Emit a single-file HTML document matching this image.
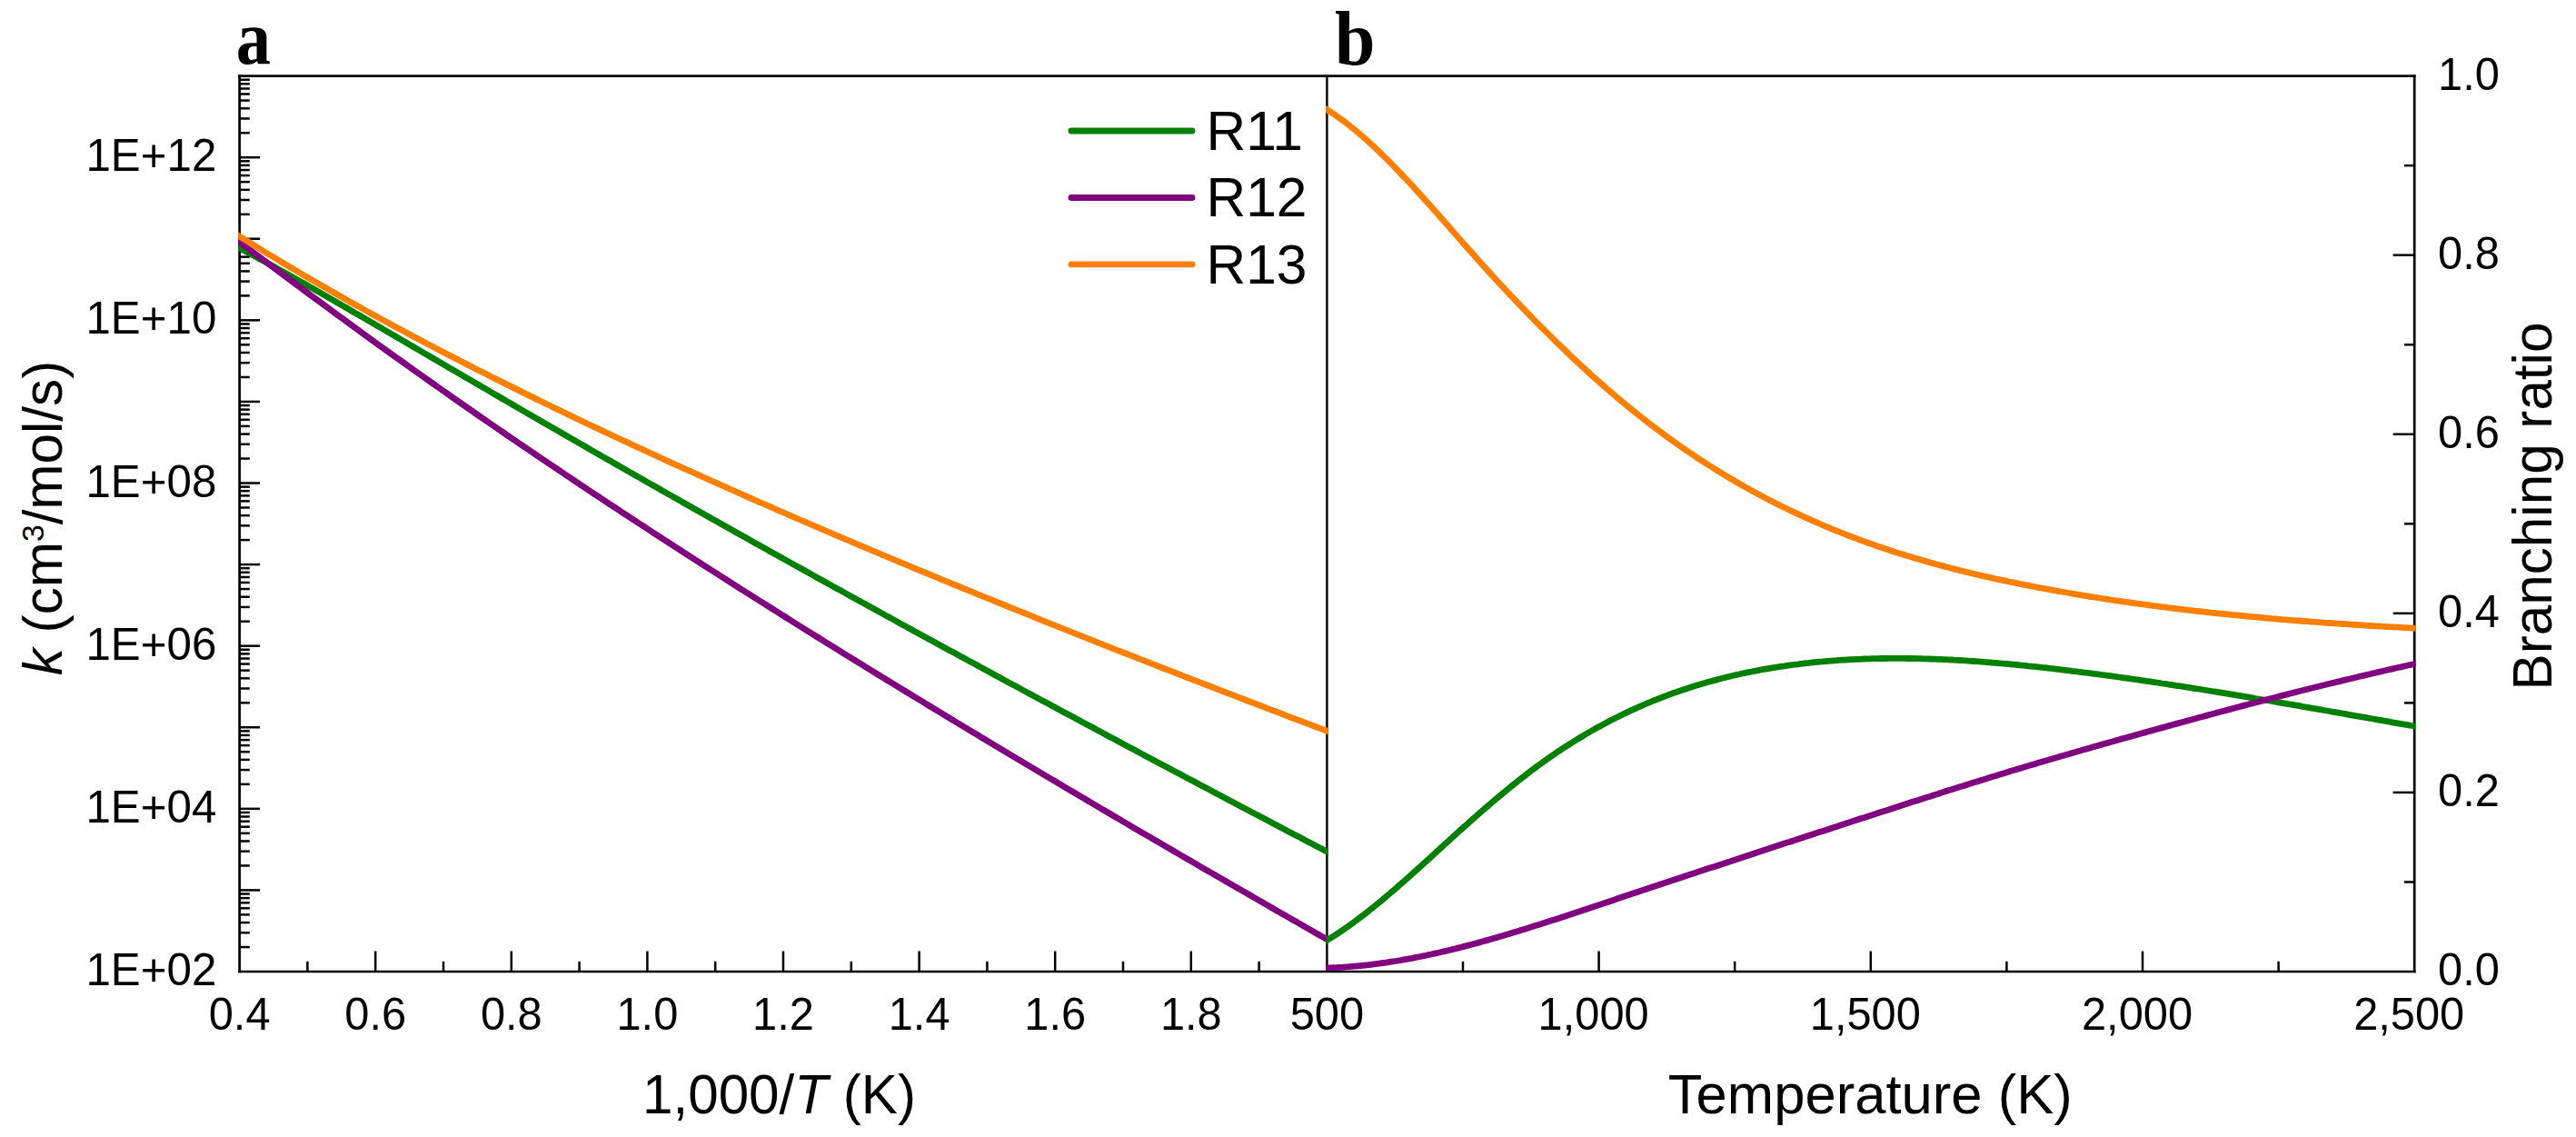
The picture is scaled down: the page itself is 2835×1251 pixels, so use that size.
<!DOCTYPE html>
<html><head><meta charset="utf-8"><title>Rate constants and branching ratios</title>
<style>html,body{margin:0;padding:0;background:#fff;}svg{display:block;}text{font-family:"Liberation Sans",Arial,sans-serif;fill:#000;}text.pl{font-family:"Liberation Serif",serif;font-weight:bold;}</style>
</head><body>
<svg width="2835" height="1251" viewBox="0 0 2835 1251">
<defs><clipPath id="ca"><rect x="262.20000000000005" y="0" width="1199.4" height="1251"/></clipPath><clipPath id="cb"><rect x="1459.2" y="0" width="1199.3999999999999" height="1251"/></clipPath></defs>
<rect width="2835" height="1251" fill="#fff"/>
<line x1="263.60" y1="1042.03" x2="274.80" y2="1042.03" stroke="#000" stroke-width="2.5" stroke-linecap="butt"/>
<line x1="263.60" y1="1026.26" x2="274.80" y2="1026.26" stroke="#000" stroke-width="2.5" stroke-linecap="butt"/>
<line x1="263.60" y1="1015.07" x2="274.80" y2="1015.07" stroke="#000" stroke-width="2.5" stroke-linecap="butt"/>
<line x1="263.60" y1="1006.38" x2="274.80" y2="1006.38" stroke="#000" stroke-width="2.5" stroke-linecap="butt"/>
<line x1="263.60" y1="999.29" x2="274.80" y2="999.29" stroke="#000" stroke-width="2.5" stroke-linecap="butt"/>
<line x1="263.60" y1="993.29" x2="274.80" y2="993.29" stroke="#000" stroke-width="2.5" stroke-linecap="butt"/>
<line x1="263.60" y1="988.10" x2="274.80" y2="988.10" stroke="#000" stroke-width="2.5" stroke-linecap="butt"/>
<line x1="263.60" y1="983.52" x2="274.80" y2="983.52" stroke="#000" stroke-width="2.5" stroke-linecap="butt"/>
<line x1="263.60" y1="979.42" x2="286.10" y2="979.42" stroke="#000" stroke-width="2.5" stroke-linecap="butt"/>
<line x1="263.60" y1="952.45" x2="274.80" y2="952.45" stroke="#000" stroke-width="2.5" stroke-linecap="butt"/>
<line x1="263.60" y1="936.68" x2="274.80" y2="936.68" stroke="#000" stroke-width="2.5" stroke-linecap="butt"/>
<line x1="263.60" y1="925.48" x2="274.80" y2="925.48" stroke="#000" stroke-width="2.5" stroke-linecap="butt"/>
<line x1="263.60" y1="916.80" x2="274.80" y2="916.80" stroke="#000" stroke-width="2.5" stroke-linecap="butt"/>
<line x1="263.60" y1="909.71" x2="274.80" y2="909.71" stroke="#000" stroke-width="2.5" stroke-linecap="butt"/>
<line x1="263.60" y1="903.71" x2="274.80" y2="903.71" stroke="#000" stroke-width="2.5" stroke-linecap="butt"/>
<line x1="263.60" y1="898.52" x2="274.80" y2="898.52" stroke="#000" stroke-width="2.5" stroke-linecap="butt"/>
<line x1="263.60" y1="893.94" x2="274.80" y2="893.94" stroke="#000" stroke-width="2.5" stroke-linecap="butt"/>
<line x1="263.60" y1="889.84" x2="286.10" y2="889.84" stroke="#000" stroke-width="2.5" stroke-linecap="butt"/>
<line x1="263.60" y1="862.87" x2="274.80" y2="862.87" stroke="#000" stroke-width="2.5" stroke-linecap="butt"/>
<line x1="263.60" y1="847.09" x2="274.80" y2="847.09" stroke="#000" stroke-width="2.5" stroke-linecap="butt"/>
<line x1="263.60" y1="835.90" x2="274.80" y2="835.90" stroke="#000" stroke-width="2.5" stroke-linecap="butt"/>
<line x1="263.60" y1="827.22" x2="274.80" y2="827.22" stroke="#000" stroke-width="2.5" stroke-linecap="butt"/>
<line x1="263.60" y1="820.13" x2="274.80" y2="820.13" stroke="#000" stroke-width="2.5" stroke-linecap="butt"/>
<line x1="263.60" y1="814.13" x2="274.80" y2="814.13" stroke="#000" stroke-width="2.5" stroke-linecap="butt"/>
<line x1="263.60" y1="808.94" x2="274.80" y2="808.94" stroke="#000" stroke-width="2.5" stroke-linecap="butt"/>
<line x1="263.60" y1="804.35" x2="274.80" y2="804.35" stroke="#000" stroke-width="2.5" stroke-linecap="butt"/>
<line x1="263.60" y1="800.25" x2="286.10" y2="800.25" stroke="#000" stroke-width="2.5" stroke-linecap="butt"/>
<line x1="263.60" y1="773.29" x2="274.80" y2="773.29" stroke="#000" stroke-width="2.5" stroke-linecap="butt"/>
<line x1="263.60" y1="757.51" x2="274.80" y2="757.51" stroke="#000" stroke-width="2.5" stroke-linecap="butt"/>
<line x1="263.60" y1="746.32" x2="274.80" y2="746.32" stroke="#000" stroke-width="2.5" stroke-linecap="butt"/>
<line x1="263.60" y1="737.64" x2="274.80" y2="737.64" stroke="#000" stroke-width="2.5" stroke-linecap="butt"/>
<line x1="263.60" y1="730.55" x2="274.80" y2="730.55" stroke="#000" stroke-width="2.5" stroke-linecap="butt"/>
<line x1="263.60" y1="724.55" x2="274.80" y2="724.55" stroke="#000" stroke-width="2.5" stroke-linecap="butt"/>
<line x1="263.60" y1="719.35" x2="274.80" y2="719.35" stroke="#000" stroke-width="2.5" stroke-linecap="butt"/>
<line x1="263.60" y1="714.77" x2="274.80" y2="714.77" stroke="#000" stroke-width="2.5" stroke-linecap="butt"/>
<line x1="263.60" y1="710.67" x2="286.10" y2="710.67" stroke="#000" stroke-width="2.5" stroke-linecap="butt"/>
<line x1="263.60" y1="683.71" x2="274.80" y2="683.71" stroke="#000" stroke-width="2.5" stroke-linecap="butt"/>
<line x1="263.60" y1="667.93" x2="274.80" y2="667.93" stroke="#000" stroke-width="2.5" stroke-linecap="butt"/>
<line x1="263.60" y1="656.74" x2="274.80" y2="656.74" stroke="#000" stroke-width="2.5" stroke-linecap="butt"/>
<line x1="263.60" y1="648.06" x2="274.80" y2="648.06" stroke="#000" stroke-width="2.5" stroke-linecap="butt"/>
<line x1="263.60" y1="640.96" x2="274.80" y2="640.96" stroke="#000" stroke-width="2.5" stroke-linecap="butt"/>
<line x1="263.60" y1="634.97" x2="274.80" y2="634.97" stroke="#000" stroke-width="2.5" stroke-linecap="butt"/>
<line x1="263.60" y1="629.77" x2="274.80" y2="629.77" stroke="#000" stroke-width="2.5" stroke-linecap="butt"/>
<line x1="263.60" y1="625.19" x2="274.80" y2="625.19" stroke="#000" stroke-width="2.5" stroke-linecap="butt"/>
<line x1="263.60" y1="621.09" x2="286.10" y2="621.09" stroke="#000" stroke-width="2.5" stroke-linecap="butt"/>
<line x1="263.60" y1="594.12" x2="274.80" y2="594.12" stroke="#000" stroke-width="2.5" stroke-linecap="butt"/>
<line x1="263.60" y1="578.35" x2="274.80" y2="578.35" stroke="#000" stroke-width="2.5" stroke-linecap="butt"/>
<line x1="263.60" y1="567.16" x2="274.80" y2="567.16" stroke="#000" stroke-width="2.5" stroke-linecap="butt"/>
<line x1="263.60" y1="558.48" x2="274.80" y2="558.48" stroke="#000" stroke-width="2.5" stroke-linecap="butt"/>
<line x1="263.60" y1="551.38" x2="274.80" y2="551.38" stroke="#000" stroke-width="2.5" stroke-linecap="butt"/>
<line x1="263.60" y1="545.39" x2="274.80" y2="545.39" stroke="#000" stroke-width="2.5" stroke-linecap="butt"/>
<line x1="263.60" y1="540.19" x2="274.80" y2="540.19" stroke="#000" stroke-width="2.5" stroke-linecap="butt"/>
<line x1="263.60" y1="535.61" x2="274.80" y2="535.61" stroke="#000" stroke-width="2.5" stroke-linecap="butt"/>
<line x1="263.60" y1="531.51" x2="286.10" y2="531.51" stroke="#000" stroke-width="2.5" stroke-linecap="butt"/>
<line x1="263.60" y1="504.54" x2="274.80" y2="504.54" stroke="#000" stroke-width="2.5" stroke-linecap="butt"/>
<line x1="263.60" y1="488.77" x2="274.80" y2="488.77" stroke="#000" stroke-width="2.5" stroke-linecap="butt"/>
<line x1="263.60" y1="477.58" x2="274.80" y2="477.58" stroke="#000" stroke-width="2.5" stroke-linecap="butt"/>
<line x1="263.60" y1="468.89" x2="274.80" y2="468.89" stroke="#000" stroke-width="2.5" stroke-linecap="butt"/>
<line x1="263.60" y1="461.80" x2="274.80" y2="461.80" stroke="#000" stroke-width="2.5" stroke-linecap="butt"/>
<line x1="263.60" y1="455.80" x2="274.80" y2="455.80" stroke="#000" stroke-width="2.5" stroke-linecap="butt"/>
<line x1="263.60" y1="450.61" x2="274.80" y2="450.61" stroke="#000" stroke-width="2.5" stroke-linecap="butt"/>
<line x1="263.60" y1="446.03" x2="274.80" y2="446.03" stroke="#000" stroke-width="2.5" stroke-linecap="butt"/>
<line x1="263.60" y1="441.93" x2="286.10" y2="441.93" stroke="#000" stroke-width="2.5" stroke-linecap="butt"/>
<line x1="263.60" y1="414.96" x2="274.80" y2="414.96" stroke="#000" stroke-width="2.5" stroke-linecap="butt"/>
<line x1="263.60" y1="399.19" x2="274.80" y2="399.19" stroke="#000" stroke-width="2.5" stroke-linecap="butt"/>
<line x1="263.60" y1="387.99" x2="274.80" y2="387.99" stroke="#000" stroke-width="2.5" stroke-linecap="butt"/>
<line x1="263.60" y1="379.31" x2="274.80" y2="379.31" stroke="#000" stroke-width="2.5" stroke-linecap="butt"/>
<line x1="263.60" y1="372.22" x2="274.80" y2="372.22" stroke="#000" stroke-width="2.5" stroke-linecap="butt"/>
<line x1="263.60" y1="366.22" x2="274.80" y2="366.22" stroke="#000" stroke-width="2.5" stroke-linecap="butt"/>
<line x1="263.60" y1="361.03" x2="274.80" y2="361.03" stroke="#000" stroke-width="2.5" stroke-linecap="butt"/>
<line x1="263.60" y1="356.44" x2="274.80" y2="356.44" stroke="#000" stroke-width="2.5" stroke-linecap="butt"/>
<line x1="263.60" y1="352.35" x2="286.10" y2="352.35" stroke="#000" stroke-width="2.5" stroke-linecap="butt"/>
<line x1="263.60" y1="325.38" x2="274.80" y2="325.38" stroke="#000" stroke-width="2.5" stroke-linecap="butt"/>
<line x1="263.60" y1="309.60" x2="274.80" y2="309.60" stroke="#000" stroke-width="2.5" stroke-linecap="butt"/>
<line x1="263.60" y1="298.41" x2="274.80" y2="298.41" stroke="#000" stroke-width="2.5" stroke-linecap="butt"/>
<line x1="263.60" y1="289.73" x2="274.80" y2="289.73" stroke="#000" stroke-width="2.5" stroke-linecap="butt"/>
<line x1="263.60" y1="282.64" x2="274.80" y2="282.64" stroke="#000" stroke-width="2.5" stroke-linecap="butt"/>
<line x1="263.60" y1="276.64" x2="274.80" y2="276.64" stroke="#000" stroke-width="2.5" stroke-linecap="butt"/>
<line x1="263.60" y1="271.45" x2="274.80" y2="271.45" stroke="#000" stroke-width="2.5" stroke-linecap="butt"/>
<line x1="263.60" y1="266.86" x2="274.80" y2="266.86" stroke="#000" stroke-width="2.5" stroke-linecap="butt"/>
<line x1="263.60" y1="262.76" x2="286.10" y2="262.76" stroke="#000" stroke-width="2.5" stroke-linecap="butt"/>
<line x1="263.60" y1="235.80" x2="274.80" y2="235.80" stroke="#000" stroke-width="2.5" stroke-linecap="butt"/>
<line x1="263.60" y1="220.02" x2="274.80" y2="220.02" stroke="#000" stroke-width="2.5" stroke-linecap="butt"/>
<line x1="263.60" y1="208.83" x2="274.80" y2="208.83" stroke="#000" stroke-width="2.5" stroke-linecap="butt"/>
<line x1="263.60" y1="200.15" x2="274.80" y2="200.15" stroke="#000" stroke-width="2.5" stroke-linecap="butt"/>
<line x1="263.60" y1="193.06" x2="274.80" y2="193.06" stroke="#000" stroke-width="2.5" stroke-linecap="butt"/>
<line x1="263.60" y1="187.06" x2="274.80" y2="187.06" stroke="#000" stroke-width="2.5" stroke-linecap="butt"/>
<line x1="263.60" y1="181.86" x2="274.80" y2="181.86" stroke="#000" stroke-width="2.5" stroke-linecap="butt"/>
<line x1="263.60" y1="177.28" x2="274.80" y2="177.28" stroke="#000" stroke-width="2.5" stroke-linecap="butt"/>
<line x1="263.60" y1="173.18" x2="286.10" y2="173.18" stroke="#000" stroke-width="2.5" stroke-linecap="butt"/>
<line x1="263.60" y1="146.22" x2="274.80" y2="146.22" stroke="#000" stroke-width="2.5" stroke-linecap="butt"/>
<line x1="263.60" y1="130.44" x2="274.80" y2="130.44" stroke="#000" stroke-width="2.5" stroke-linecap="butt"/>
<line x1="263.60" y1="119.25" x2="274.80" y2="119.25" stroke="#000" stroke-width="2.5" stroke-linecap="butt"/>
<line x1="263.60" y1="110.57" x2="274.80" y2="110.57" stroke="#000" stroke-width="2.5" stroke-linecap="butt"/>
<line x1="263.60" y1="103.47" x2="274.80" y2="103.47" stroke="#000" stroke-width="2.5" stroke-linecap="butt"/>
<line x1="263.60" y1="97.48" x2="274.80" y2="97.48" stroke="#000" stroke-width="2.5" stroke-linecap="butt"/>
<line x1="263.60" y1="92.28" x2="274.80" y2="92.28" stroke="#000" stroke-width="2.5" stroke-linecap="butt"/>
<line x1="263.60" y1="87.70" x2="274.80" y2="87.70" stroke="#000" stroke-width="2.5" stroke-linecap="butt"/>
<line x1="338.40" y1="1069.00" x2="338.40" y2="1057.80" stroke="#000" stroke-width="2.5" stroke-linecap="butt"/>
<line x1="413.20" y1="1069.00" x2="413.20" y2="1046.50" stroke="#000" stroke-width="2.5" stroke-linecap="butt"/>
<line x1="488.00" y1="1069.00" x2="488.00" y2="1057.80" stroke="#000" stroke-width="2.5" stroke-linecap="butt"/>
<line x1="562.80" y1="1069.00" x2="562.80" y2="1046.50" stroke="#000" stroke-width="2.5" stroke-linecap="butt"/>
<line x1="637.60" y1="1069.00" x2="637.60" y2="1057.80" stroke="#000" stroke-width="2.5" stroke-linecap="butt"/>
<line x1="712.40" y1="1069.00" x2="712.40" y2="1046.50" stroke="#000" stroke-width="2.5" stroke-linecap="butt"/>
<line x1="787.20" y1="1069.00" x2="787.20" y2="1057.80" stroke="#000" stroke-width="2.5" stroke-linecap="butt"/>
<line x1="862.00" y1="1069.00" x2="862.00" y2="1046.50" stroke="#000" stroke-width="2.5" stroke-linecap="butt"/>
<line x1="936.80" y1="1069.00" x2="936.80" y2="1057.80" stroke="#000" stroke-width="2.5" stroke-linecap="butt"/>
<line x1="1011.60" y1="1069.00" x2="1011.60" y2="1046.50" stroke="#000" stroke-width="2.5" stroke-linecap="butt"/>
<line x1="1086.40" y1="1069.00" x2="1086.40" y2="1057.80" stroke="#000" stroke-width="2.5" stroke-linecap="butt"/>
<line x1="1161.20" y1="1069.00" x2="1161.20" y2="1046.50" stroke="#000" stroke-width="2.5" stroke-linecap="butt"/>
<line x1="1236.00" y1="1069.00" x2="1236.00" y2="1057.80" stroke="#000" stroke-width="2.5" stroke-linecap="butt"/>
<line x1="1310.80" y1="1069.00" x2="1310.80" y2="1046.50" stroke="#000" stroke-width="2.5" stroke-linecap="butt"/>
<line x1="1385.60" y1="1069.00" x2="1385.60" y2="1057.80" stroke="#000" stroke-width="2.5" stroke-linecap="butt"/>
<line x1="1610.00" y1="1069.00" x2="1610.00" y2="1057.80" stroke="#000" stroke-width="2.5" stroke-linecap="butt"/>
<line x1="1759.60" y1="1069.00" x2="1759.60" y2="1046.50" stroke="#000" stroke-width="2.5" stroke-linecap="butt"/>
<line x1="1909.20" y1="1069.00" x2="1909.20" y2="1057.80" stroke="#000" stroke-width="2.5" stroke-linecap="butt"/>
<line x1="2058.80" y1="1069.00" x2="2058.80" y2="1046.50" stroke="#000" stroke-width="2.5" stroke-linecap="butt"/>
<line x1="2208.40" y1="1069.00" x2="2208.40" y2="1057.80" stroke="#000" stroke-width="2.5" stroke-linecap="butt"/>
<line x1="2358.00" y1="1069.00" x2="2358.00" y2="1046.50" stroke="#000" stroke-width="2.5" stroke-linecap="butt"/>
<line x1="2507.60" y1="1069.00" x2="2507.60" y2="1057.80" stroke="#000" stroke-width="2.5" stroke-linecap="butt"/>
<line x1="2657.20" y1="970.46" x2="2646.00" y2="970.46" stroke="#000" stroke-width="2.5" stroke-linecap="butt"/>
<line x1="2657.20" y1="871.92" x2="2633.60" y2="871.92" stroke="#000" stroke-width="2.5" stroke-linecap="butt"/>
<line x1="2657.20" y1="773.38" x2="2646.00" y2="773.38" stroke="#000" stroke-width="2.5" stroke-linecap="butt"/>
<line x1="2657.20" y1="674.84" x2="2633.60" y2="674.84" stroke="#000" stroke-width="2.5" stroke-linecap="butt"/>
<line x1="2657.20" y1="576.30" x2="2646.00" y2="576.30" stroke="#000" stroke-width="2.5" stroke-linecap="butt"/>
<line x1="2657.20" y1="477.76" x2="2633.60" y2="477.76" stroke="#000" stroke-width="2.5" stroke-linecap="butt"/>
<line x1="2657.20" y1="379.22" x2="2646.00" y2="379.22" stroke="#000" stroke-width="2.5" stroke-linecap="butt"/>
<line x1="2657.20" y1="280.68" x2="2633.60" y2="280.68" stroke="#000" stroke-width="2.5" stroke-linecap="butt"/>
<line x1="2657.20" y1="182.14" x2="2646.00" y2="182.14" stroke="#000" stroke-width="2.5" stroke-linecap="butt"/>
<line x1="263.6" y1="83.6" x2="2657.2" y2="83.6" stroke="#000" stroke-width="2.7" stroke-linecap="square"/>
<line x1="263.6" y1="1069.0" x2="2657.2" y2="1069.0" stroke="#000" stroke-width="2.7" stroke-linecap="square"/>
<line x1="263.6" y1="83.6" x2="263.6" y2="1069.0" stroke="#000" stroke-width="2.7" stroke-linecap="square"/>
<line x1="2657.2" y1="83.6" x2="2657.2" y2="1069.0" stroke="#000" stroke-width="2.7" stroke-linecap="square"/>
<line x1="1460.4" y1="83.6" x2="1460.4" y2="1069.0" stroke="#000" stroke-width="2.4"/>
<path d="M260.6,271.5 L265.6,274.1 L270.7,276.8 L275.7,279.5 L280.7,282.1 L285.8,284.9 L290.8,287.6 L295.8,290.3 L300.9,293.1 L305.9,295.9 L310.9,298.7 L316.0,301.5 L321.0,304.3 L326.0,307.1 L331.1,309.9 L336.1,312.8 L341.1,315.7 L346.2,318.5 L351.2,321.4 L356.2,324.3 L361.3,327.2 L366.3,330.1 L371.3,333.0 L376.4,335.9 L381.4,338.8 L386.4,341.7 L391.4,344.6 L396.5,347.5 L401.5,350.4 L406.5,353.4 L411.6,356.3 L416.6,359.2 L421.6,362.1 L426.7,365.1 L431.7,368.0 L436.7,371.0 L441.8,373.9 L446.8,376.8 L451.8,379.8 L456.9,382.7 L461.9,385.6 L466.9,388.6 L472.0,391.5 L477.0,394.5 L482.0,397.4 L487.1,400.3 L492.1,403.3 L497.1,406.2 L502.2,409.1 L507.2,412.1 L512.2,415.0 L517.3,417.9 L522.3,420.9 L527.3,423.8 L532.4,426.7 L537.4,429.7 L542.4,432.6 L547.5,435.5 L552.5,438.5 L557.5,441.4 L562.6,444.3 L567.6,447.2 L572.6,450.1 L577.7,453.1 L582.7,456.0 L587.7,458.9 L592.8,461.8 L597.8,464.7 L602.8,467.6 L607.9,470.5 L612.9,473.4 L617.9,476.3 L622.9,479.2 L628.0,482.1 L633.0,485.0 L638.0,487.9 L643.1,490.8 L648.1,493.7 L653.1,496.6 L658.2,499.5 L663.2,502.4 L668.2,505.3 L673.3,508.1 L678.3,511.0 L683.3,513.9 L688.4,516.8 L693.4,519.6 L698.4,522.5 L703.5,525.4 L708.5,528.3 L713.5,531.1 L718.6,534.0 L723.6,536.8 L728.6,539.7 L733.7,542.6 L738.7,545.4 L743.7,548.3 L748.8,551.1 L753.8,554.0 L758.8,556.8 L763.9,559.7 L768.9,562.5 L773.9,565.3 L779.0,568.2 L784.0,571.0 L789.0,573.8 L794.1,576.7 L799.1,579.5 L804.1,582.3 L809.2,585.2 L814.2,588.0 L819.2,590.8 L824.3,593.6 L829.3,596.5 L834.3,599.3 L839.4,602.1 L844.4,604.9 L849.4,607.7 L854.5,610.5 L859.5,613.3 L864.5,616.1 L869.5,618.9 L874.6,621.7 L879.6,624.5 L884.6,627.3 L889.7,630.1 L894.7,632.9 L899.7,635.7 L904.8,638.5 L909.8,641.3 L914.8,644.1 L919.9,646.9 L924.9,649.6 L929.9,652.4 L935.0,655.2 L940.0,658.0 L945.0,660.8 L950.1,663.5 L955.1,666.3 L960.1,669.1 L965.2,671.8 L970.2,674.6 L975.2,677.4 L980.3,680.1 L985.3,682.9 L990.3,685.7 L995.4,688.4 L1000.4,691.2 L1005.4,693.9 L1010.5,696.7 L1015.5,699.4 L1020.5,702.2 L1025.6,704.9 L1030.6,707.7 L1035.6,710.4 L1040.7,713.2 L1045.7,715.9 L1050.7,718.6 L1055.8,721.4 L1060.8,724.1 L1065.8,726.9 L1070.9,729.6 L1075.9,732.3 L1080.9,735.0 L1086.0,737.8 L1091.0,740.5 L1096.0,743.2 L1101.1,746.0 L1106.1,748.7 L1111.1,751.4 L1116.1,754.1 L1121.2,756.8 L1126.2,759.6 L1131.2,762.3 L1136.3,765.0 L1141.3,767.7 L1146.3,770.4 L1151.4,773.1 L1156.4,775.8 L1161.4,778.5 L1166.5,781.2 L1171.5,783.9 L1176.5,786.6 L1181.6,789.3 L1186.6,792.0 L1191.6,794.7 L1196.7,797.4 L1201.7,800.1 L1206.7,802.8 L1211.8,805.5 L1216.8,808.2 L1221.8,810.9 L1226.9,813.6 L1231.9,816.3 L1236.9,819.0 L1242.0,821.7 L1247.0,824.3 L1252.0,827.0 L1257.1,829.7 L1262.1,832.4 L1267.1,835.1 L1272.2,837.7 L1277.2,840.4 L1282.2,843.1 L1287.3,845.8 L1292.3,848.4 L1297.3,851.1 L1302.4,853.8 L1307.4,856.4 L1312.4,859.1 L1317.5,861.8 L1322.5,864.4 L1327.5,867.1 L1332.6,869.8 L1337.6,872.4 L1342.6,875.1 L1347.6,877.8 L1352.7,880.4 L1357.7,883.1 L1362.7,885.7 L1367.8,888.4 L1372.8,891.0 L1377.8,893.7 L1382.9,896.3 L1387.9,899.0 L1392.9,901.6 L1398.0,904.3 L1403.0,906.9 L1408.0,909.6 L1413.1,912.2 L1418.1,914.9 L1423.1,917.5 L1428.2,920.1 L1433.2,922.8 L1438.2,925.4 L1443.3,928.1 L1448.3,930.7 L1453.3,933.3 L1458.4,936.0 L1463.4,938.6" fill="none" stroke="#008000" stroke-width="6.8" stroke-linejoin="round" clip-path="url(#ca)"/>
<path d="M260.6,264.2 L265.6,268.0 L270.7,271.7 L275.7,275.5 L280.7,279.3 L285.8,283.0 L290.8,286.8 L295.8,290.5 L300.9,294.3 L305.9,298.0 L310.9,301.8 L316.0,305.5 L321.0,309.3 L326.0,313.0 L331.1,316.8 L336.1,320.5 L341.1,324.2 L346.2,327.9 L351.2,331.6 L356.2,335.3 L361.3,339.0 L366.3,342.7 L371.3,346.4 L376.4,350.1 L381.4,353.8 L386.4,357.5 L391.4,361.1 L396.5,364.8 L401.5,368.4 L406.5,372.1 L411.6,375.7 L416.6,379.4 L421.6,383.0 L426.7,386.6 L431.7,390.2 L436.7,393.8 L441.8,397.4 L446.8,401.0 L451.8,404.6 L456.9,408.2 L461.9,411.7 L466.9,415.3 L472.0,418.9 L477.0,422.4 L482.0,426.0 L487.1,429.5 L492.1,433.0 L497.1,436.6 L502.2,440.1 L507.2,443.6 L512.2,447.1 L517.3,450.6 L522.3,454.1 L527.3,457.6 L532.4,461.1 L537.4,464.5 L542.4,468.0 L547.5,471.5 L552.5,474.9 L557.5,478.4 L562.6,481.8 L567.6,485.2 L572.6,488.7 L577.7,492.1 L582.7,495.5 L587.7,498.9 L592.8,502.3 L597.8,505.7 L602.8,509.1 L607.9,512.5 L612.9,515.9 L617.9,519.3 L622.9,522.7 L628.0,526.0 L633.0,529.4 L638.0,532.8 L643.1,536.1 L648.1,539.5 L653.1,542.8 L658.2,546.1 L663.2,549.5 L668.2,552.8 L673.3,556.1 L678.3,559.4 L683.3,562.8 L688.4,566.1 L693.4,569.4 L698.4,572.7 L703.5,576.0 L708.5,579.2 L713.5,582.5 L718.6,585.8 L723.6,589.1 L728.6,592.4 L733.7,595.6 L738.7,598.9 L743.7,602.1 L748.8,605.4 L753.8,608.6 L758.8,611.9 L763.9,615.1 L768.9,618.3 L773.9,621.6 L779.0,624.8 L784.0,628.0 L789.0,631.2 L794.1,634.5 L799.1,637.7 L804.1,640.9 L809.2,644.1 L814.2,647.3 L819.2,650.5 L824.3,653.7 L829.3,656.8 L834.3,660.0 L839.4,663.2 L844.4,666.4 L849.4,669.5 L854.5,672.7 L859.5,675.9 L864.5,679.0 L869.5,682.2 L874.6,685.3 L879.6,688.5 L884.6,691.6 L889.7,694.8 L894.7,697.9 L899.7,701.0 L904.8,704.2 L909.8,707.3 L914.8,710.4 L919.9,713.5 L924.9,716.7 L929.9,719.8 L935.0,722.9 L940.0,726.0 L945.0,729.1 L950.1,732.2 L955.1,735.3 L960.1,738.4 L965.2,741.5 L970.2,744.6 L975.2,747.7 L980.3,750.7 L985.3,753.8 L990.3,756.9 L995.4,760.0 L1000.4,763.0 L1005.4,766.1 L1010.5,769.2 L1015.5,772.2 L1020.5,775.3 L1025.6,778.3 L1030.6,781.4 L1035.6,784.4 L1040.7,787.5 L1045.7,790.5 L1050.7,793.6 L1055.8,796.6 L1060.8,799.7 L1065.8,802.7 L1070.9,805.7 L1075.9,808.7 L1080.9,811.8 L1086.0,814.8 L1091.0,817.8 L1096.0,820.8 L1101.1,823.9 L1106.1,826.9 L1111.1,829.9 L1116.1,832.9 L1121.2,835.9 L1126.2,838.9 L1131.2,841.9 L1136.3,844.9 L1141.3,847.9 L1146.3,850.9 L1151.4,853.9 L1156.4,856.9 L1161.4,859.8 L1166.5,862.8 L1171.5,865.8 L1176.5,868.8 L1181.6,871.8 L1186.6,874.7 L1191.6,877.7 L1196.7,880.7 L1201.7,883.7 L1206.7,886.6 L1211.8,889.6 L1216.8,892.5 L1221.8,895.5 L1226.9,898.5 L1231.9,901.4 L1236.9,904.4 L1242.0,907.3 L1247.0,910.3 L1252.0,913.2 L1257.1,916.2 L1262.1,919.1 L1267.1,922.0 L1272.2,925.0 L1277.2,927.9 L1282.2,930.9 L1287.3,933.8 L1292.3,936.7 L1297.3,939.6 L1302.4,942.6 L1307.4,945.5 L1312.4,948.4 L1317.5,951.3 L1322.5,954.3 L1327.5,957.2 L1332.6,960.1 L1337.6,963.0 L1342.6,965.9 L1347.6,968.8 L1352.7,971.7 L1357.7,974.6 L1362.7,977.5 L1367.8,980.4 L1372.8,983.3 L1377.8,986.2 L1382.9,989.1 L1387.9,992.0 L1392.9,994.9 L1398.0,997.8 L1403.0,1000.7 L1408.0,1003.6 L1413.1,1006.5 L1418.1,1009.4 L1423.1,1012.3 L1428.2,1015.1 L1433.2,1018.0 L1438.2,1020.9 L1443.3,1023.8 L1448.3,1026.7 L1453.3,1029.5 L1458.4,1032.4 L1463.4,1035.3" fill="none" stroke="#800080" stroke-width="6.8" stroke-linejoin="round" clip-path="url(#ca)"/>
<path d="M260.6,258.1 L265.6,261.3 L270.7,264.4 L275.7,267.5 L280.7,270.6 L285.8,273.7 L290.8,276.8 L295.8,279.9 L300.9,282.9 L305.9,285.9 L310.9,289.0 L316.0,292.0 L321.0,295.0 L326.0,297.9 L331.1,300.9 L336.1,303.9 L341.1,306.8 L346.2,309.7 L351.2,312.6 L356.2,315.5 L361.3,318.4 L366.3,321.3 L371.3,324.2 L376.4,327.0 L381.4,329.9 L386.4,332.7 L391.4,335.5 L396.5,338.3 L401.5,341.1 L406.5,343.9 L411.6,346.7 L416.6,349.4 L421.6,352.2 L426.7,354.9 L431.7,357.7 L436.7,360.4 L441.8,363.1 L446.8,365.8 L451.8,368.5 L456.9,371.2 L461.9,373.8 L466.9,376.5 L472.0,379.2 L477.0,381.8 L482.0,384.4 L487.1,387.1 L492.1,389.7 L497.1,392.3 L502.2,394.9 L507.2,397.5 L512.2,400.1 L517.3,402.6 L522.3,405.2 L527.3,407.8 L532.4,410.3 L537.4,412.8 L542.4,415.4 L547.5,417.9 L552.5,420.4 L557.5,422.9 L562.6,425.4 L567.6,427.9 L572.6,430.4 L577.7,432.9 L582.7,435.4 L587.7,437.9 L592.8,440.3 L597.8,442.8 L602.8,445.2 L607.9,447.7 L612.9,450.1 L617.9,452.5 L622.9,455.0 L628.0,457.4 L633.0,459.8 L638.0,462.2 L643.1,464.6 L648.1,467.0 L653.1,469.4 L658.2,471.7 L663.2,474.1 L668.2,476.5 L673.3,478.8 L678.3,481.2 L683.3,483.5 L688.4,485.9 L693.4,488.2 L698.4,490.6 L703.5,492.9 L708.5,495.2 L713.5,497.5 L718.6,499.9 L723.6,502.2 L728.6,504.5 L733.7,506.8 L738.7,509.1 L743.7,511.4 L748.8,513.6 L753.8,515.9 L758.8,518.2 L763.9,520.5 L768.9,522.7 L773.9,525.0 L779.0,527.2 L784.0,529.5 L789.0,531.7 L794.1,534.0 L799.1,536.2 L804.1,538.5 L809.2,540.7 L814.2,542.9 L819.2,545.1 L824.3,547.4 L829.3,549.6 L834.3,551.8 L839.4,554.0 L844.4,556.2 L849.4,558.4 L854.5,560.6 L859.5,562.8 L864.5,565.0 L869.5,567.1 L874.6,569.3 L879.6,571.5 L884.6,573.7 L889.7,575.8 L894.7,578.0 L899.7,580.2 L904.8,582.3 L909.8,584.5 L914.8,586.6 L919.9,588.8 L924.9,590.9 L929.9,593.1 L935.0,595.2 L940.0,597.3 L945.0,599.5 L950.1,601.6 L955.1,603.7 L960.1,605.8 L965.2,607.9 L970.2,610.1 L975.2,612.2 L980.3,614.3 L985.3,616.4 L990.3,618.5 L995.4,620.6 L1000.4,622.7 L1005.4,624.8 L1010.5,626.9 L1015.5,629.0 L1020.5,631.0 L1025.6,633.1 L1030.6,635.2 L1035.6,637.3 L1040.7,639.3 L1045.7,641.4 L1050.7,643.5 L1055.8,645.5 L1060.8,647.6 L1065.8,649.7 L1070.9,651.7 L1075.9,653.8 L1080.9,655.8 L1086.0,657.9 L1091.0,659.9 L1096.0,662.0 L1101.1,664.0 L1106.1,666.0 L1111.1,668.1 L1116.1,670.1 L1121.2,672.2 L1126.2,674.2 L1131.2,676.2 L1136.3,678.2 L1141.3,680.3 L1146.3,682.3 L1151.4,684.3 L1156.4,686.3 L1161.4,688.3 L1166.5,690.3 L1171.5,692.3 L1176.5,694.3 L1181.6,696.3 L1186.6,698.3 L1191.6,700.3 L1196.7,702.3 L1201.7,704.3 L1206.7,706.3 L1211.8,708.3 L1216.8,710.3 L1221.8,712.3 L1226.9,714.3 L1231.9,716.3 L1236.9,718.2 L1242.0,720.2 L1247.0,722.2 L1252.0,724.2 L1257.1,726.1 L1262.1,728.1 L1267.1,730.1 L1272.2,732.0 L1277.2,734.0 L1282.2,736.0 L1287.3,737.9 L1292.3,739.9 L1297.3,741.8 L1302.4,743.8 L1307.4,745.7 L1312.4,747.7 L1317.5,749.6 L1322.5,751.6 L1327.5,753.5 L1332.6,755.5 L1337.6,757.4 L1342.6,759.4 L1347.6,761.3 L1352.7,763.2 L1357.7,765.2 L1362.7,767.1 L1367.8,769.0 L1372.8,771.0 L1377.8,772.9 L1382.9,774.8 L1387.9,776.7 L1392.9,778.7 L1398.0,780.6 L1403.0,782.5 L1408.0,784.4 L1413.1,786.3 L1418.1,788.3 L1423.1,790.2 L1428.2,792.1 L1433.2,794.0 L1438.2,795.9 L1443.3,797.8 L1448.3,799.7 L1453.3,801.6 L1458.4,803.5 L1463.4,805.4" fill="none" stroke="#ff8000" stroke-width="6.8" stroke-linejoin="round" clip-path="url(#ca)"/>
<path d="M1457.4,1036.3 L1460.4,1034.5 L1463.4,1032.7 L1466.4,1030.8 L1469.5,1028.9 L1472.5,1026.9 L1475.5,1024.9 L1478.5,1022.9 L1481.5,1020.8 L1484.5,1018.7 L1487.5,1016.5 L1490.6,1014.3 L1493.6,1012.1 L1496.6,1009.8 L1499.6,1007.5 L1502.6,1005.2 L1505.6,1002.8 L1508.6,1000.4 L1511.7,998.0 L1514.7,995.5 L1517.7,993.1 L1520.7,990.6 L1523.7,988.1 L1526.7,985.5 L1529.7,983.0 L1532.8,980.4 L1535.8,977.8 L1538.8,975.1 L1541.8,972.5 L1544.8,969.9 L1547.8,967.2 L1550.9,964.5 L1553.9,961.8 L1556.9,959.1 L1559.9,956.4 L1562.9,953.7 L1565.9,950.9 L1568.9,948.2 L1572.0,945.5 L1575.0,942.7 L1578.0,940.0 L1581.0,937.2 L1584.0,934.5 L1587.0,931.7 L1590.0,929.0 L1593.1,926.2 L1596.1,923.5 L1599.1,920.8 L1602.1,918.0 L1605.1,915.3 L1608.1,912.6 L1611.1,909.9 L1614.2,907.2 L1617.2,904.5 L1620.2,901.9 L1623.2,899.2 L1626.2,896.5 L1629.2,893.9 L1632.2,891.3 L1635.3,888.7 L1638.3,886.1 L1641.3,883.5 L1644.3,880.9 L1647.3,878.4 L1650.3,875.9 L1653.3,873.4 L1656.4,870.9 L1659.4,868.4 L1662.4,865.9 L1665.4,863.5 L1668.4,861.1 L1671.4,858.7 L1674.4,856.3 L1677.5,854.0 L1680.5,851.6 L1683.5,849.3 L1686.5,847.1 L1689.5,844.8 L1692.5,842.6 L1695.5,840.4 L1698.6,838.2 L1701.6,836.0 L1704.6,833.9 L1707.6,831.8 L1710.6,829.8 L1713.6,827.7 L1716.7,825.7 L1719.7,823.7 L1722.7,821.7 L1725.7,819.8 L1728.7,817.9 L1731.7,816.0 L1734.7,814.1 L1737.8,812.3 L1740.8,810.5 L1743.8,808.7 L1746.8,806.9 L1749.8,805.1 L1752.8,803.4 L1755.8,801.7 L1758.9,800.0 L1761.9,798.4 L1764.9,796.8 L1767.9,795.2 L1770.9,793.6 L1773.9,792.0 L1776.9,790.5 L1780.0,789.0 L1783.0,787.5 L1786.0,786.0 L1789.0,784.6 L1792.0,783.1 L1795.0,781.7 L1798.0,780.3 L1801.1,779.0 L1804.1,777.6 L1807.1,776.3 L1810.1,775.0 L1813.1,773.7 L1816.1,772.5 L1819.1,771.2 L1822.2,770.0 L1825.2,768.8 L1828.2,767.7 L1831.2,766.5 L1834.2,765.4 L1837.2,764.2 L1840.2,763.1 L1843.3,762.1 L1846.3,761.0 L1849.3,760.0 L1852.3,758.9 L1855.3,757.9 L1858.3,756.9 L1861.3,756.0 L1864.4,755.0 L1867.4,754.1 L1870.4,753.2 L1873.4,752.3 L1876.4,751.4 L1879.4,750.5 L1882.4,749.7 L1885.5,748.9 L1888.5,748.1 L1891.5,747.3 L1894.5,746.5 L1897.5,745.7 L1900.5,745.0 L1903.6,744.2 L1906.6,743.5 L1909.6,742.8 L1912.6,742.2 L1915.6,741.5 L1918.6,740.8 L1921.6,740.2 L1924.7,739.6 L1927.7,739.0 L1930.7,738.4 L1933.7,737.8 L1936.7,737.2 L1939.7,736.7 L1942.7,736.1 L1945.8,735.6 L1948.8,735.1 L1951.8,734.6 L1954.8,734.1 L1957.8,733.7 L1960.8,733.2 L1963.8,732.8 L1966.9,732.3 L1969.9,731.9 L1972.9,731.5 L1975.9,731.1 L1978.9,730.8 L1981.9,730.4 L1984.9,730.0 L1988.0,729.7 L1991.0,729.4 L1994.0,729.0 L1997.0,728.7 L2000.0,728.4 L2003.0,728.1 L2006.0,727.9 L2009.1,727.6 L2012.1,727.3 L2015.1,727.1 L2018.1,726.9 L2021.1,726.7 L2024.1,726.4 L2027.1,726.2 L2030.2,726.1 L2033.2,725.9 L2036.2,725.7 L2039.2,725.6 L2042.2,725.4 L2045.2,725.3 L2048.2,725.2 L2051.3,725.0 L2054.3,724.9 L2057.3,724.8 L2060.3,724.7 L2063.3,724.7 L2066.3,724.6 L2069.4,724.5 L2072.4,724.5 L2075.4,724.5 L2078.4,724.4 L2081.4,724.4 L2084.4,724.4 L2087.4,724.4 L2090.5,724.4 L2093.5,724.4 L2096.5,724.4 L2099.5,724.5 L2102.5,724.5 L2105.5,724.5 L2108.5,724.6 L2111.6,724.7 L2114.6,724.7 L2117.6,724.8 L2120.6,724.9 L2123.6,725.0 L2126.6,725.1 L2129.6,725.2 L2132.7,725.3 L2135.7,725.4 L2138.7,725.6 L2141.7,725.7 L2144.7,725.9 L2147.7,726.0 L2150.7,726.2 L2153.8,726.3 L2156.8,726.5 L2159.8,726.7 L2162.8,726.9 L2165.8,727.1 L2168.8,727.3 L2171.8,727.5 L2174.9,727.7 L2177.9,727.9 L2180.9,728.1 L2183.9,728.4 L2186.9,728.6 L2189.9,728.8 L2192.9,729.1 L2196.0,729.3 L2199.0,729.6 L2202.0,729.9 L2205.0,730.1 L2208.0,730.4 L2211.0,730.7 L2214.0,731.0 L2217.1,731.2 L2220.1,731.5 L2223.1,731.8 L2226.1,732.1 L2229.1,732.4 L2232.1,732.8 L2235.2,733.1 L2238.2,733.4 L2241.2,733.7 L2244.2,734.0 L2247.2,734.4 L2250.2,734.7 L2253.2,735.0 L2256.3,735.4 L2259.3,735.7 L2262.3,736.1 L2265.3,736.4 L2268.3,736.8 L2271.3,737.2 L2274.3,737.5 L2277.4,737.9 L2280.4,738.3 L2283.4,738.6 L2286.4,739.0 L2289.4,739.4 L2292.4,739.8 L2295.4,740.1 L2298.5,740.5 L2301.5,740.9 L2304.5,741.3 L2307.5,741.7 L2310.5,742.1 L2313.5,742.5 L2316.5,742.9 L2319.6,743.3 L2322.6,743.7 L2325.6,744.1 L2328.6,744.5 L2331.6,745.0 L2334.6,745.4 L2337.6,745.8 L2340.7,746.2 L2343.7,746.7 L2346.7,747.1 L2349.7,747.5 L2352.7,747.9 L2355.7,748.4 L2358.7,748.8 L2361.8,749.3 L2364.8,749.7 L2367.8,750.2 L2370.8,750.6 L2373.8,751.0 L2376.8,751.5 L2379.8,752.0 L2382.9,752.4 L2385.9,752.9 L2388.9,753.3 L2391.9,753.8 L2394.9,754.3 L2397.9,754.7 L2400.9,755.2 L2404.0,755.7 L2407.0,756.1 L2410.0,756.6 L2413.0,757.1 L2416.0,757.6 L2419.0,758.0 L2422.1,758.5 L2425.1,759.0 L2428.1,759.5 L2431.1,760.0 L2434.1,760.5 L2437.1,760.9 L2440.1,761.4 L2443.2,761.9 L2446.2,762.4 L2449.2,762.9 L2452.2,763.4 L2455.2,763.9 L2458.2,764.4 L2461.2,764.9 L2464.3,765.4 L2467.3,765.9 L2470.3,766.4 L2473.3,766.9 L2476.3,767.4 L2479.3,767.9 L2482.3,768.5 L2485.4,769.0 L2488.4,769.5 L2491.4,770.0 L2494.4,770.5 L2497.4,771.0 L2500.4,771.5 L2503.4,772.0 L2506.5,772.6 L2509.5,773.1 L2512.5,773.6 L2515.5,774.1 L2518.5,774.6 L2521.5,775.2 L2524.5,775.7 L2527.6,776.2 L2530.6,776.7 L2533.6,777.3 L2536.6,777.8 L2539.6,778.3 L2542.6,778.8 L2545.6,779.4 L2548.7,779.9 L2551.7,780.4 L2554.7,780.9 L2557.7,781.5 L2560.7,782.0 L2563.7,782.5 L2566.7,783.1 L2569.8,783.6 L2572.8,784.1 L2575.8,784.7 L2578.8,785.2 L2581.8,785.7 L2584.8,786.3 L2587.9,786.8 L2590.9,787.3 L2593.9,787.9 L2596.9,788.4 L2599.9,788.9 L2602.9,789.4 L2605.9,790.0 L2609.0,790.5 L2612.0,791.0 L2615.0,791.6 L2618.0,792.1 L2621.0,792.6 L2624.0,793.2 L2627.0,793.7 L2630.1,794.2 L2633.1,794.8 L2636.1,795.3 L2639.1,795.8 L2642.1,796.4 L2645.1,796.9 L2648.1,797.4 L2651.2,797.9 L2654.2,798.5 L2657.2,799.0 L2660.2,799.5" fill="none" stroke="#008000" stroke-width="6.8" stroke-linejoin="round" clip-path="url(#cb)"/>
<path d="M1457.4,1065.0 L1460.4,1065.0 L1463.4,1064.9 L1466.4,1064.7 L1469.5,1064.6 L1472.5,1064.5 L1475.5,1064.3 L1478.5,1064.1 L1481.5,1063.9 L1484.5,1063.7 L1487.5,1063.4 L1490.6,1063.2 L1493.6,1062.9 L1496.6,1062.6 L1499.6,1062.3 L1502.6,1062.0 L1505.6,1061.7 L1508.6,1061.3 L1511.7,1060.9 L1514.7,1060.5 L1517.7,1060.2 L1520.7,1059.7 L1523.7,1059.3 L1526.7,1058.9 L1529.7,1058.4 L1532.8,1057.9 L1535.8,1057.5 L1538.8,1057.0 L1541.8,1056.5 L1544.8,1055.9 L1547.8,1055.4 L1550.9,1054.8 L1553.9,1054.3 L1556.9,1053.7 L1559.9,1053.1 L1562.9,1052.5 L1565.9,1051.9 L1568.9,1051.3 L1572.0,1050.6 L1575.0,1050.0 L1578.0,1049.3 L1581.0,1048.7 L1584.0,1048.0 L1587.0,1047.3 L1590.0,1046.6 L1593.1,1045.9 L1596.1,1045.2 L1599.1,1044.4 L1602.1,1043.7 L1605.1,1042.9 L1608.1,1042.2 L1611.1,1041.4 L1614.2,1040.6 L1617.2,1039.8 L1620.2,1039.0 L1623.2,1038.2 L1626.2,1037.4 L1629.2,1036.6 L1632.2,1035.7 L1635.3,1034.9 L1638.3,1034.1 L1641.3,1033.2 L1644.3,1032.3 L1647.3,1031.5 L1650.3,1030.6 L1653.3,1029.7 L1656.4,1028.8 L1659.4,1027.9 L1662.4,1027.0 L1665.4,1026.1 L1668.4,1025.2 L1671.4,1024.3 L1674.4,1023.3 L1677.5,1022.4 L1680.5,1021.5 L1683.5,1020.5 L1686.5,1019.6 L1689.5,1018.6 L1692.5,1017.7 L1695.5,1016.7 L1698.6,1015.8 L1701.6,1014.8 L1704.6,1013.8 L1707.6,1012.8 L1710.6,1011.9 L1713.6,1010.9 L1716.7,1009.9 L1719.7,1008.9 L1722.7,1007.9 L1725.7,1006.9 L1728.7,1005.9 L1731.7,1004.9 L1734.7,1003.9 L1737.8,1002.9 L1740.8,1001.9 L1743.8,1000.9 L1746.8,999.9 L1749.8,998.9 L1752.8,997.9 L1755.8,996.9 L1758.9,995.9 L1761.9,994.9 L1764.9,993.9 L1767.9,992.9 L1770.9,991.9 L1773.9,990.9 L1776.9,989.9 L1780.0,988.8 L1783.0,987.8 L1786.0,986.8 L1789.0,985.8 L1792.0,984.8 L1795.0,983.8 L1798.0,982.8 L1801.1,981.8 L1804.1,980.8 L1807.1,979.8 L1810.1,978.8 L1813.1,977.8 L1816.1,976.8 L1819.1,975.8 L1822.2,974.8 L1825.2,973.8 L1828.2,972.8 L1831.2,971.8 L1834.2,970.8 L1837.2,969.8 L1840.2,968.8 L1843.3,967.8 L1846.3,966.8 L1849.3,965.8 L1852.3,964.8 L1855.3,963.8 L1858.3,962.8 L1861.3,961.8 L1864.4,960.8 L1867.4,959.8 L1870.4,958.8 L1873.4,957.8 L1876.4,956.8 L1879.4,955.8 L1882.4,954.8 L1885.5,953.9 L1888.5,952.9 L1891.5,951.9 L1894.5,950.9 L1897.5,949.9 L1900.5,948.9 L1903.6,947.9 L1906.6,946.9 L1909.6,945.9 L1912.6,944.9 L1915.6,943.9 L1918.6,942.9 L1921.6,942.0 L1924.7,941.0 L1927.7,940.0 L1930.7,939.0 L1933.7,938.0 L1936.7,937.0 L1939.7,936.0 L1942.7,935.0 L1945.8,934.0 L1948.8,933.1 L1951.8,932.1 L1954.8,931.1 L1957.8,930.1 L1960.8,929.1 L1963.8,928.1 L1966.9,927.1 L1969.9,926.2 L1972.9,925.2 L1975.9,924.2 L1978.9,923.2 L1981.9,922.2 L1984.9,921.2 L1988.0,920.3 L1991.0,919.3 L1994.0,918.3 L1997.0,917.3 L2000.0,916.3 L2003.0,915.3 L2006.0,914.4 L2009.1,913.4 L2012.1,912.4 L2015.1,911.4 L2018.1,910.4 L2021.1,909.5 L2024.1,908.5 L2027.1,907.5 L2030.2,906.5 L2033.2,905.5 L2036.2,904.6 L2039.2,903.6 L2042.2,902.6 L2045.2,901.6 L2048.2,900.6 L2051.3,899.7 L2054.3,898.7 L2057.3,897.7 L2060.3,896.7 L2063.3,895.8 L2066.3,894.8 L2069.4,893.8 L2072.4,892.8 L2075.4,891.9 L2078.4,890.9 L2081.4,889.9 L2084.4,888.9 L2087.4,888.0 L2090.5,887.0 L2093.5,886.0 L2096.5,885.1 L2099.5,884.1 L2102.5,883.1 L2105.5,882.1 L2108.5,881.2 L2111.6,880.2 L2114.6,879.2 L2117.6,878.3 L2120.6,877.3 L2123.6,876.4 L2126.6,875.4 L2129.6,874.4 L2132.7,873.5 L2135.7,872.5 L2138.7,871.6 L2141.7,870.6 L2144.7,869.6 L2147.7,868.7 L2150.7,867.7 L2153.8,866.8 L2156.8,865.8 L2159.8,864.9 L2162.8,863.9 L2165.8,863.0 L2168.8,862.1 L2171.8,861.1 L2174.9,860.2 L2177.9,859.2 L2180.9,858.3 L2183.9,857.4 L2186.9,856.4 L2189.9,855.5 L2192.9,854.6 L2196.0,853.7 L2199.0,852.7 L2202.0,851.8 L2205.0,850.9 L2208.0,850.0 L2211.0,849.1 L2214.0,848.1 L2217.1,847.2 L2220.1,846.3 L2223.1,845.4 L2226.1,844.5 L2229.1,843.6 L2232.1,842.7 L2235.2,841.8 L2238.2,840.9 L2241.2,840.0 L2244.2,839.1 L2247.2,838.2 L2250.2,837.3 L2253.2,836.5 L2256.3,835.6 L2259.3,834.7 L2262.3,833.8 L2265.3,832.9 L2268.3,832.0 L2271.3,831.2 L2274.3,830.3 L2277.4,829.4 L2280.4,828.6 L2283.4,827.7 L2286.4,826.8 L2289.4,826.0 L2292.4,825.1 L2295.4,824.2 L2298.5,823.4 L2301.5,822.5 L2304.5,821.6 L2307.5,820.8 L2310.5,819.9 L2313.5,819.1 L2316.5,818.2 L2319.6,817.4 L2322.6,816.5 L2325.6,815.7 L2328.6,814.8 L2331.6,814.0 L2334.6,813.1 L2337.6,812.3 L2340.7,811.4 L2343.7,810.6 L2346.7,809.8 L2349.7,808.9 L2352.7,808.1 L2355.7,807.2 L2358.7,806.4 L2361.8,805.6 L2364.8,804.7 L2367.8,803.9 L2370.8,803.1 L2373.8,802.2 L2376.8,801.4 L2379.8,800.6 L2382.9,799.7 L2385.9,798.9 L2388.9,798.1 L2391.9,797.2 L2394.9,796.4 L2397.9,795.6 L2400.9,794.8 L2404.0,793.9 L2407.0,793.1 L2410.0,792.3 L2413.0,791.5 L2416.0,790.7 L2419.0,789.8 L2422.1,789.0 L2425.1,788.2 L2428.1,787.4 L2431.1,786.6 L2434.1,785.8 L2437.1,785.0 L2440.1,784.1 L2443.2,783.3 L2446.2,782.5 L2449.2,781.7 L2452.2,780.9 L2455.2,780.1 L2458.2,779.3 L2461.2,778.5 L2464.3,777.7 L2467.3,776.9 L2470.3,776.1 L2473.3,775.3 L2476.3,774.5 L2479.3,773.7 L2482.3,773.0 L2485.4,772.2 L2488.4,771.4 L2491.4,770.6 L2494.4,769.8 L2497.4,769.0 L2500.4,768.2 L2503.4,767.5 L2506.5,766.7 L2509.5,765.9 L2512.5,765.1 L2515.5,764.4 L2518.5,763.6 L2521.5,762.8 L2524.5,762.1 L2527.6,761.3 L2530.6,760.5 L2533.6,759.8 L2536.6,759.0 L2539.6,758.3 L2542.6,757.5 L2545.6,756.8 L2548.7,756.0 L2551.7,755.3 L2554.7,754.5 L2557.7,753.8 L2560.7,753.0 L2563.7,752.3 L2566.7,751.6 L2569.8,750.8 L2572.8,750.1 L2575.8,749.4 L2578.8,748.6 L2581.8,747.9 L2584.8,747.2 L2587.9,746.5 L2590.9,745.7 L2593.9,745.0 L2596.9,744.3 L2599.9,743.6 L2602.9,742.9 L2605.9,742.2 L2609.0,741.5 L2612.0,740.8 L2615.0,740.1 L2618.0,739.4 L2621.0,738.7 L2624.0,738.0 L2627.0,737.3 L2630.1,736.6 L2633.1,735.9 L2636.1,735.2 L2639.1,734.5 L2642.1,733.9 L2645.1,733.2 L2648.1,732.5 L2651.2,731.8 L2654.2,731.2 L2657.2,730.5 L2660.2,729.8" fill="none" stroke="#800080" stroke-width="6.8" stroke-linejoin="round" clip-path="url(#cb)"/>
<path d="M1457.4,118.9 L1460.4,120.7 L1463.4,122.6 L1466.4,124.6 L1469.5,126.6 L1472.5,128.7 L1475.5,130.9 L1478.5,133.1 L1481.5,135.3 L1484.5,137.7 L1487.5,140.1 L1490.6,142.5 L1493.6,145.0 L1496.6,147.6 L1499.6,150.2 L1502.6,152.8 L1505.6,155.5 L1508.6,158.3 L1511.7,161.0 L1514.7,163.9 L1517.7,166.8 L1520.7,169.7 L1523.7,172.6 L1526.7,175.6 L1529.7,178.6 L1532.8,181.7 L1535.8,184.8 L1538.8,187.9 L1541.8,191.1 L1544.8,194.3 L1547.8,197.5 L1550.9,200.7 L1553.9,204.0 L1556.9,207.3 L1559.9,210.6 L1562.9,213.9 L1565.9,217.2 L1568.9,220.6 L1572.0,223.9 L1575.0,227.3 L1578.0,230.7 L1581.0,234.1 L1584.0,237.5 L1587.0,241.0 L1590.0,244.4 L1593.1,247.8 L1596.1,251.3 L1599.1,254.7 L1602.1,258.1 L1605.1,261.6 L1608.1,265.0 L1611.1,268.4 L1614.2,271.8 L1617.2,275.2 L1620.2,278.6 L1623.2,282.0 L1626.2,285.4 L1629.2,288.8 L1632.2,292.1 L1635.3,295.4 L1638.3,298.8 L1641.3,302.1 L1644.3,305.4 L1647.3,308.6 L1650.3,311.9 L1653.3,315.2 L1656.4,318.4 L1659.4,321.6 L1662.4,324.8 L1665.4,328.0 L1668.4,331.2 L1671.4,334.4 L1674.4,337.5 L1677.5,340.7 L1680.5,343.8 L1683.5,346.9 L1686.5,350.0 L1689.5,353.1 L1692.5,356.1 L1695.5,359.2 L1698.6,362.2 L1701.6,365.2 L1704.6,368.2 L1707.6,371.2 L1710.6,374.1 L1713.6,377.1 L1716.7,380.0 L1719.7,382.9 L1722.7,385.8 L1725.7,388.7 L1728.7,391.6 L1731.7,394.4 L1734.7,397.3 L1737.8,400.1 L1740.8,402.9 L1743.8,405.6 L1746.8,408.4 L1749.8,411.1 L1752.8,413.9 L1755.8,416.6 L1758.9,419.3 L1761.9,421.9 L1764.9,424.6 L1767.9,427.2 L1770.9,429.8 L1773.9,432.4 L1776.9,435.0 L1780.0,437.6 L1783.0,440.1 L1786.0,442.6 L1789.0,445.1 L1792.0,447.6 L1795.0,450.0 L1798.0,452.5 L1801.1,454.9 L1804.1,457.3 L1807.1,459.7 L1810.1,462.0 L1813.1,464.4 L1816.1,466.7 L1819.1,469.0 L1822.2,471.3 L1825.2,473.5 L1828.2,475.8 L1831.2,478.0 L1834.2,480.2 L1837.2,482.4 L1840.2,484.6 L1843.3,486.7 L1846.3,488.9 L1849.3,491.0 L1852.3,493.1 L1855.3,495.1 L1858.3,497.2 L1861.3,499.2 L1864.4,501.3 L1867.4,503.3 L1870.4,505.3 L1873.4,507.2 L1876.4,509.2 L1879.4,511.1 L1882.4,513.0 L1885.5,514.9 L1888.5,516.8 L1891.5,518.7 L1894.5,520.5 L1897.5,522.4 L1900.5,524.2 L1903.6,526.0 L1906.6,527.7 L1909.6,529.5 L1912.6,531.3 L1915.6,533.0 L1918.6,534.7 L1921.6,536.4 L1924.7,538.1 L1927.7,539.7 L1930.7,541.4 L1933.7,543.0 L1936.7,544.6 L1939.7,546.3 L1942.7,547.8 L1945.8,549.4 L1948.8,551.0 L1951.8,552.5 L1954.8,554.0 L1957.8,555.6 L1960.8,557.0 L1963.8,558.5 L1966.9,560.0 L1969.9,561.5 L1972.9,562.9 L1975.9,564.3 L1978.9,565.7 L1981.9,567.1 L1984.9,568.5 L1988.0,569.9 L1991.0,571.2 L1994.0,572.6 L1997.0,573.9 L2000.0,575.2 L2003.0,576.5 L2006.0,577.8 L2009.1,579.1 L2012.1,580.3 L2015.1,581.6 L2018.1,582.8 L2021.1,584.0 L2024.1,585.2 L2027.1,586.4 L2030.2,587.6 L2033.2,588.8 L2036.2,590.0 L2039.2,591.1 L2042.2,592.2 L2045.2,593.4 L2048.2,594.5 L2051.3,595.6 L2054.3,596.7 L2057.3,597.8 L2060.3,598.8 L2063.3,599.9 L2066.3,600.9 L2069.4,602.0 L2072.4,603.0 L2075.4,604.0 L2078.4,605.0 L2081.4,606.0 L2084.4,607.0 L2087.4,607.9 L2090.5,608.9 L2093.5,609.8 L2096.5,610.8 L2099.5,611.7 L2102.5,612.6 L2105.5,613.5 L2108.5,614.4 L2111.6,615.3 L2114.6,616.2 L2117.6,617.1 L2120.6,617.9 L2123.6,618.8 L2126.6,619.6 L2129.6,620.5 L2132.7,621.3 L2135.7,622.1 L2138.7,622.9 L2141.7,623.7 L2144.7,624.5 L2147.7,625.3 L2150.7,626.1 L2153.8,626.8 L2156.8,627.6 L2159.8,628.3 L2162.8,629.1 L2165.8,629.8 L2168.8,630.5 L2171.8,631.3 L2174.9,632.0 L2177.9,632.7 L2180.9,633.4 L2183.9,634.1 L2186.9,634.7 L2189.9,635.4 L2192.9,636.1 L2196.0,636.8 L2199.0,637.4 L2202.0,638.1 L2205.0,638.7 L2208.0,639.3 L2211.0,640.0 L2214.0,640.6 L2217.1,641.2 L2220.1,641.8 L2223.1,642.5 L2226.1,643.1 L2229.1,643.7 L2232.1,644.2 L2235.2,644.8 L2238.2,645.4 L2241.2,646.0 L2244.2,646.6 L2247.2,647.1 L2250.2,647.7 L2253.2,648.2 L2256.3,648.8 L2259.3,649.4 L2262.3,649.9 L2265.3,650.4 L2268.3,651.0 L2271.3,651.5 L2274.3,652.0 L2277.4,652.5 L2280.4,653.1 L2283.4,653.6 L2286.4,654.1 L2289.4,654.6 L2292.4,655.1 L2295.4,655.6 L2298.5,656.1 L2301.5,656.6 L2304.5,657.0 L2307.5,657.5 L2310.5,658.0 L2313.5,658.5 L2316.5,658.9 L2319.6,659.4 L2322.6,659.9 L2325.6,660.3 L2328.6,660.8 L2331.6,661.2 L2334.6,661.6 L2337.6,662.1 L2340.7,662.5 L2343.7,662.9 L2346.7,663.4 L2349.7,663.8 L2352.7,664.2 L2355.7,664.6 L2358.7,665.0 L2361.8,665.4 L2364.8,665.8 L2367.8,666.2 L2370.8,666.6 L2373.8,667.0 L2376.8,667.4 L2379.8,667.8 L2382.9,668.2 L2385.9,668.6 L2388.9,668.9 L2391.9,669.3 L2394.9,669.7 L2397.9,670.0 L2400.9,670.4 L2404.0,670.8 L2407.0,671.1 L2410.0,671.5 L2413.0,671.8 L2416.0,672.2 L2419.0,672.5 L2422.1,672.8 L2425.1,673.2 L2428.1,673.5 L2431.1,673.8 L2434.1,674.2 L2437.1,674.5 L2440.1,674.8 L2443.2,675.1 L2446.2,675.4 L2449.2,675.7 L2452.2,676.0 L2455.2,676.3 L2458.2,676.6 L2461.2,676.9 L2464.3,677.2 L2467.3,677.5 L2470.3,677.8 L2473.3,678.1 L2476.3,678.4 L2479.3,678.7 L2482.3,678.9 L2485.4,679.2 L2488.4,679.5 L2491.4,679.8 L2494.4,680.0 L2497.4,680.3 L2500.4,680.6 L2503.4,680.8 L2506.5,681.1 L2509.5,681.3 L2512.5,681.6 L2515.5,681.8 L2518.5,682.1 L2521.5,682.3 L2524.5,682.6 L2527.6,682.8 L2530.6,683.0 L2533.6,683.3 L2536.6,683.5 L2539.6,683.7 L2542.6,684.0 L2545.6,684.2 L2548.7,684.4 L2551.7,684.6 L2554.7,684.9 L2557.7,685.1 L2560.7,685.3 L2563.7,685.5 L2566.7,685.7 L2569.8,685.9 L2572.8,686.1 L2575.8,686.3 L2578.8,686.5 L2581.8,686.7 L2584.8,686.9 L2587.9,687.1 L2590.9,687.3 L2593.9,687.5 L2596.9,687.7 L2599.9,687.9 L2602.9,688.1 L2605.9,688.3 L2609.0,688.5 L2612.0,688.7 L2615.0,688.8 L2618.0,689.0 L2621.0,689.2 L2624.0,689.4 L2627.0,689.6 L2630.1,689.7 L2633.1,689.9 L2636.1,690.1 L2639.1,690.2 L2642.1,690.4 L2645.1,690.6 L2648.1,690.7 L2651.2,690.9 L2654.2,691.1 L2657.2,691.2 L2660.2,691.4" fill="none" stroke="#ff8000" stroke-width="6.8" stroke-linejoin="round" clip-path="url(#cb)"/>
<line x1="1179.00" y1="144.00" x2="1312.00" y2="144.00" stroke="#008000" stroke-width="6.9" stroke-linecap="round"/>
<line x1="1179.00" y1="217.45" x2="1312.00" y2="217.45" stroke="#800080" stroke-width="6.9" stroke-linecap="round"/>
<line x1="1179.00" y1="290.90" x2="1312.00" y2="290.90" stroke="#ff8000" stroke-width="6.9" stroke-linecap="round"/>
<text transform="translate(263.6,1132.9) scale(1.0,1.025)" font-size="48.8" text-anchor="middle">0.4</text>
<text transform="translate(413.2,1132.9) scale(1.0,1.025)" font-size="48.8" text-anchor="middle">0.6</text>
<text transform="translate(562.8,1132.9) scale(1.0,1.025)" font-size="48.8" text-anchor="middle">0.8</text>
<text transform="translate(712.4,1132.9) scale(1.0,1.025)" font-size="48.8" text-anchor="middle">1.0</text>
<text transform="translate(862.0,1132.9) scale(1.0,1.025)" font-size="48.8" text-anchor="middle">1.2</text>
<text transform="translate(1011.6,1132.9) scale(1.0,1.025)" font-size="48.8" text-anchor="middle">1.4</text>
<text transform="translate(1161.2,1132.9) scale(1.0,1.025)" font-size="48.8" text-anchor="middle">1.6</text>
<text transform="translate(1310.8,1132.9) scale(1.0,1.025)" font-size="48.8" text-anchor="middle">1.8</text>
<text transform="translate(1460.4,1132.9) scale(1.0,1.025)" font-size="48.8" text-anchor="middle">500</text>
<text transform="translate(1753.6,1132.9) scale(1.0,1.025)" font-size="48.8" text-anchor="middle">1,000</text>
<text transform="translate(2052.8,1132.9) scale(1.0,1.025)" font-size="48.8" text-anchor="middle">1,500</text>
<text transform="translate(2352.0,1132.9) scale(1.0,1.025)" font-size="48.8" text-anchor="middle">2,000</text>
<text transform="translate(2651.2,1132.9) scale(1.0,1.025)" font-size="48.8" text-anchor="middle">2,500</text>
<text transform="translate(238.3,1084.0) scale(1.0,1.025)" font-size="49.3" text-anchor="end">1E+02</text>
<text transform="translate(238.3,904.8) scale(1.0,1.025)" font-size="49.3" text-anchor="end">1E+04</text>
<text transform="translate(238.3,725.7) scale(1.0,1.025)" font-size="49.3" text-anchor="end">1E+06</text>
<text transform="translate(238.3,546.5) scale(1.0,1.025)" font-size="49.3" text-anchor="end">1E+08</text>
<text transform="translate(238.3,367.3) scale(1.0,1.025)" font-size="49.3" text-anchor="end">1E+10</text>
<text transform="translate(238.3,188.2) scale(1.0,1.025)" font-size="49.3" text-anchor="end">1E+12</text>
<text transform="translate(2683.0,1084.0) scale(1.0,1.025)" font-size="48.8" text-anchor="start">0.0</text>
<text transform="translate(2683.0,886.9) scale(1.0,1.025)" font-size="48.8" text-anchor="start">0.2</text>
<text transform="translate(2683.0,689.8) scale(1.0,1.025)" font-size="48.8" text-anchor="start">0.4</text>
<text transform="translate(2683.0,492.8) scale(1.0,1.025)" font-size="48.8" text-anchor="start">0.6</text>
<text transform="translate(2683.0,295.7) scale(1.0,1.025)" font-size="48.8" text-anchor="start">0.8</text>
<text transform="translate(2683.0,98.6) scale(1.0,1.025)" font-size="48.8" text-anchor="start">1.0</text>
<text x="857.5" y="1224.5" font-size="60.2" text-anchor="middle">1,000/<tspan font-style="italic">T</tspan> (K)</text>
<text x="2058.3" y="1224.8" font-size="61.6" text-anchor="middle">Temperature (K)</text>
<text transform="translate(68,570) rotate(-90)" font-size="60.2" text-anchor="middle"><tspan font-style="italic">k</tspan> (cm<tspan font-size="33.7" dy="-20.5">3</tspan><tspan dy="20.5">/mol/s)</tspan></text>
<text transform="translate(2807.7,557) rotate(-90)" font-size="60.2" text-anchor="middle">Branching ratio</text>
<text x="1327.5" y="165.0" font-size="60.5" text-anchor="start">R11</text>
<text x="1327.5" y="238.4" font-size="60.5" text-anchor="start">R12</text>
<text x="1327.5" y="311.9" font-size="60.5" text-anchor="start">R13</text>
<text transform="translate(259.8,70.3) scale(0.9,1)" class="pl" font-size="85">a</text>
<text transform="translate(1469,70.8) scale(0.94,1)" class="pl" font-size="85">b</text>
</svg>
</body></html>
